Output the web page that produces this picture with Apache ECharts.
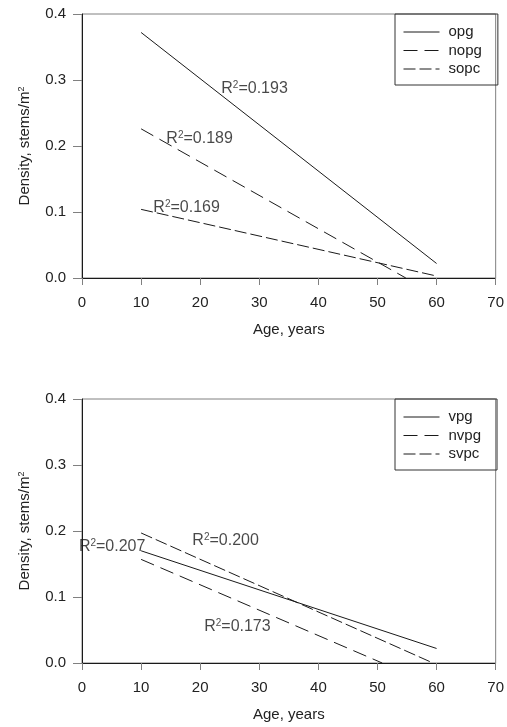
<!DOCTYPE html>
<html>
<head>
<meta charset="utf-8">
<script src="https://cdn.jsdelivr.net/npm/echarts@6/dist/echarts.min.js"></script>
<style>html,body{margin:0;padding:0;background:#fff;}#c{width:507px;height:727px;}</style>
</head>
<body>
<div id="c"></div>
<script>
// Top panel series (age, density)
const opg  = [[10, 0.372], [60, 0.022]];
const nopg = [[10, 0.226], [54.8, 0.0]];
const sopc = [[10, 0.104], [60, 0.003]];
// Bottom panel series
const vpg  = [[10, 0.170], [60, 0.022]];
const nvpg = [[10, 0.157], [50.8, 0.0]];
const svpc = [[10, 0.197], [59.4, 0.0]];
// R² annotations: [age, density, label]
const topNotes = [[29.2, 0.287, '0.193'], [19.9, 0.211, '0.189'], [17.7, 0.107, '0.169']];
const botNotes = [[5.1, 0.176, '0.207'], [24.3, 0.185, '0.200'], [26.3, 0.055, '0.173']];
const topNames = ['opg', 'nopg', 'sopc'];
const botNames = ['vpg', 'nvpg', 'svpc'];
const xTicks = {min: 0, max: 70, interval: 10};
const yTicks = {min: 0, max: 0.4, interval: 0.1};

const FONT = 'Liberation Sans';
const ink = '#1a1a1a';
const dashStyles = ['solid', [14, 7], [12, 4]];
const sup = {
  base: {fontSize: 16, lineHeight: 17, fontFamily: FONT, color: ink},
  sup: {fontSize: 10, lineHeight: 17, verticalAlign: 'top', fontFamily: FONT, color: ink}
};

function xAxis(gi) {
  return {
    gridIndex: gi, type: 'value', min: xTicks.min, max: xTicks.max, interval: xTicks.interval,
    axisLine: {lineStyle: {color: ink, width: 1}},
    axisTick: {length: 7, lineStyle: {color: '#808080'}},
    axisLabel: {margin: 17, fontSize: 15, fontFamily: FONT, color: '#222'},
    splitLine: {show: false},
    name: 'Age, years', nameLocation: 'middle', nameGap: 44,
    nameTextStyle: {fontSize: 15, fontFamily: FONT, color: '#222'}
  };
}
function yAxis(gi) {
  return {
    gridIndex: gi, type: 'value', min: yTicks.min, max: yTicks.max, interval: yTicks.interval,
    axisLine: {lineStyle: {color: ink, width: 1}},
    axisTick: {length: 9, lineStyle: {color: '#808080'}},
    axisLabel: {margin: 16, fontSize: 15, fontFamily: FONT, color: '#222', formatter: v => v.toFixed(1)},
    splitLine: {show: false},
    name: '{b|Density, stems/m}{s|2}', nameLocation: 'middle', nameGap: 49,
    nameTextStyle: {
      rich: {
        b: {fontSize: 15, lineHeight: 16, fontFamily: FONT, color: '#222'},
        s: {fontSize: 9, lineHeight: 16, verticalAlign: 'top', fontFamily: FONT, color: '#222'}
      }
    }
  };
}
function lineSeries(name, data, gi, k) {
  return {
    name: name, type: 'line', xAxisIndex: gi, yAxisIndex: gi, data: data,
    symbol: 'none', silent: true, animation: false,
    lineStyle: {color: ink, width: 1, type: dashStyles[k]},
    itemStyle: {color: ink}
  };
}
function noteSeries(notes, gi) {
  return {
    type: 'scatter', xAxisIndex: gi, yAxisIndex: gi, symbolSize: 0, silent: true, animation: false,
    data: notes.map(n => ({value: [n[0], n[1]], r: n[2]})),
    label: {
      show: true, position: 'inside',
      formatter: p => '{base|R}{sup|2}{base|=' + p.data.r + '}',
      rich: sup
    }
  };
}
function legend(names, top) {
  return {
    data: names, orient: 'vertical', left: 395, top: top,
    itemWidth: 36, itemHeight: 10, itemGap: 3.5,
    padding: [10.5, 16, 8.5, 8],
    borderColor: '#333', borderWidth: 1,
    itemStyle: {opacity: 0, borderWidth: 0},
    lineStyle: {width: 1},
    textStyle: {fontSize: 15, lineHeight: 15, fontFamily: FONT, color: '#222', padding: [0, 0, 0, 4]},
    selectedMode: false
  };
}

const chart = echarts.init(document.getElementById('c'), null, {renderer: 'canvas'});
chart.setOption({
  animation: false,
  backgroundColor: '#fff',
  grid: [
    {left: 82, top: 14, width: 415, height: 264, show: true, borderColor: '#808080', borderWidth: 1},
    {left: 82, top: 399, width: 415, height: 264, show: true, borderColor: '#808080', borderWidth: 1}
  ],
  xAxis: [xAxis(0), xAxis(1)],
  yAxis: [yAxis(0), yAxis(1)],
  legend: [legend(topNames, 14), legend(botNames, 399)],
  series: [
    lineSeries(topNames[0], opg, 0, 0),
    lineSeries(topNames[1], nopg, 0, 1),
    lineSeries(topNames[2], sopc, 0, 2),
    lineSeries(botNames[0], vpg, 1, 0),
    lineSeries(botNames[1], nvpg, 1, 1),
    lineSeries(botNames[2], svpc, 1, 2),
    noteSeries(topNotes, 0),
    noteSeries(botNotes, 1)
  ]
});
</script>
</body>
</html>
